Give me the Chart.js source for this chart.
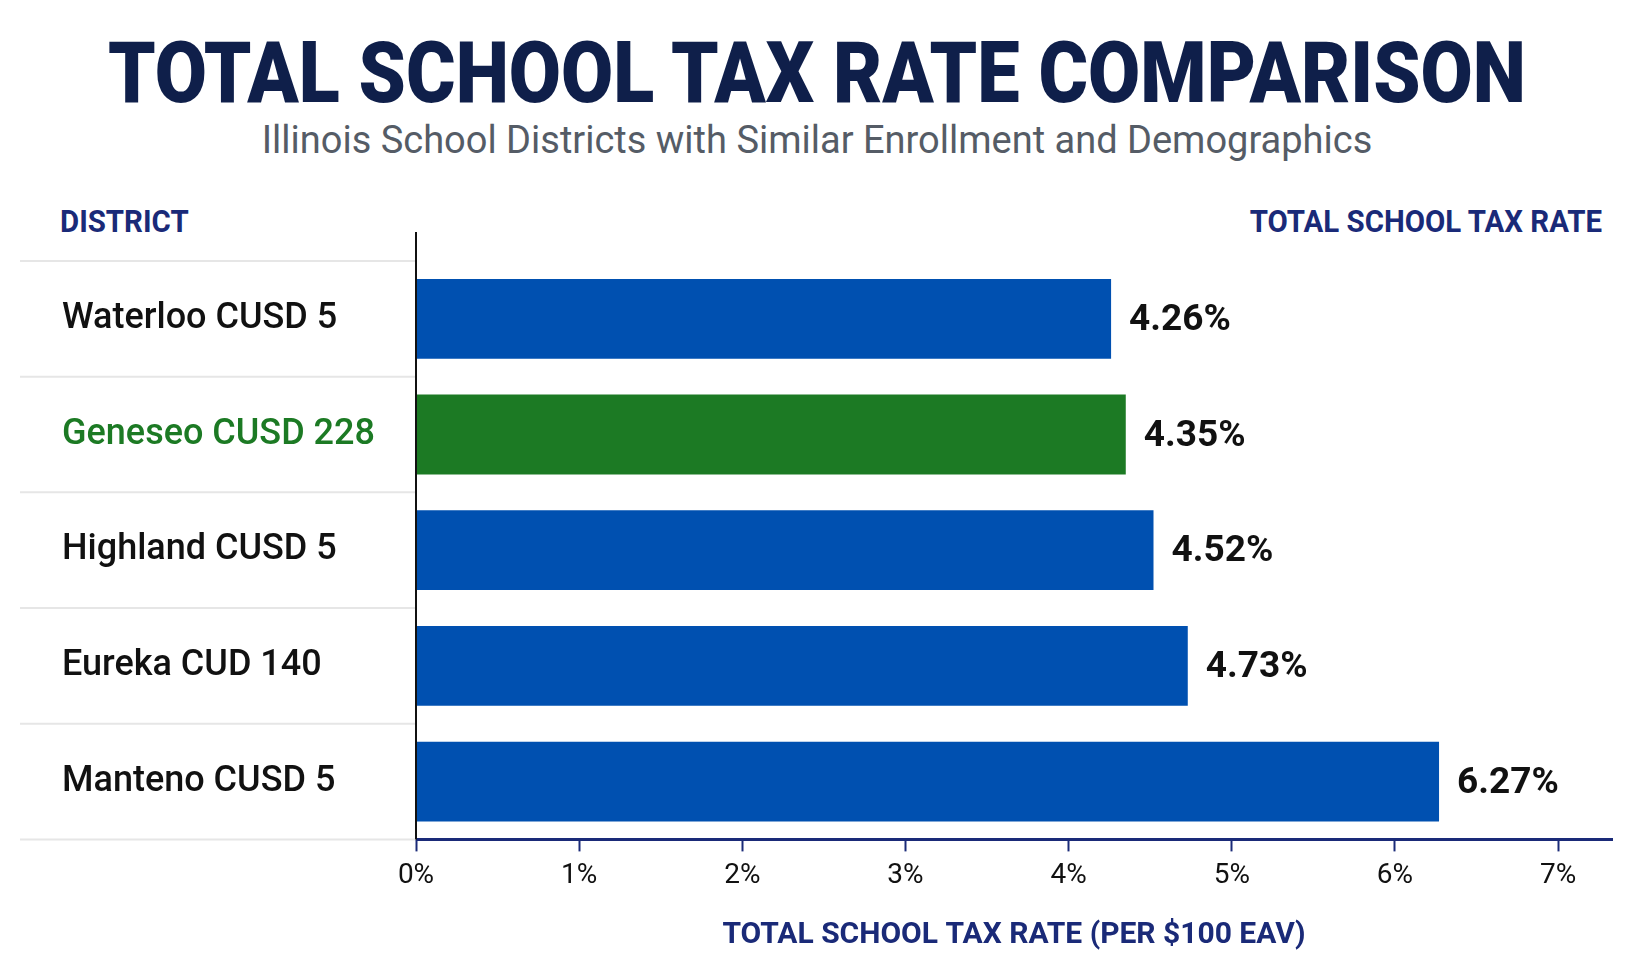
<!DOCTYPE html>
<html><head><meta charset="utf-8">
<script src="https://cdn.jsdelivr.net/npm/chart.js@4"></script>
<style>
body{margin:0;background:#fff;width:1634px;height:963px;overflow:hidden;position:relative;font-family:Roboto,sans-serif}
#title{position:absolute;top:22px;width:100%;text-align:center;font-size:86px;font-weight:900;color:#0f1f4a;white-space:nowrap;transform:scaleX(0.88)}
#sub{position:absolute;top:118px;width:100%;text-align:center;font-size:38px;color:#555c66}
.hd{position:absolute;top:202px;font-size:32px;font-weight:bold;color:#1a2a78;transform:scaleX(0.92)}
canvas{position:absolute;left:0;top:0}
</style></head><body>
<div id="title">TOTAL SCHOOL TAX RATE COMPARISON</div>
<div id="sub">Illinois School Districts with Similar Enrollment and Demographics</div>
<div class="hd" style="left:60px;transform-origin:left">DISTRICT</div>
<div class="hd" style="right:32px;transform-origin:right">TOTAL SCHOOL TAX RATE</div>
<canvas id="c" width="1634" height="963"></canvas>
<script>
const districts = ["Waterloo CUSD 5", "Geneseo CUSD 228", "Highland CUSD 5", "Eureka CUD 140", "Manteno CUSD 5"];
const rates = [4.26, 4.35, 4.52, 4.73, 6.27];
const barColors = ["#0050b0", "#1c7a24", "#0050b0", "#0050b0", "#0050b0"];
const labelColors = ["#111", "#1c7a24", "#111", "#111", "#111"];
const xTicks = [0, 1, 2, 3, 4, 5, 6, 7];

const extras = {
  id: "extras",
  afterDraw(chart) {
    const ctx = chart.ctx, a = chart.chartArea;
    ctx.save();
    ctx.strokeStyle = "#e6e6e6"; ctx.lineWidth = 2;
    const step = (a.bottom - a.top) / districts.length;
    for (let i = 0; i <= districts.length; i++) {
      const yy = a.top + i * step;
      ctx.beginPath(); ctx.moveTo(20, yy); ctx.lineTo(a.left, yy); ctx.stroke();
    }
    ctx.strokeStyle = "#111"; ctx.lineWidth = 2;
    ctx.beginPath(); ctx.moveTo(a.left, 232); ctx.lineTo(a.left, a.bottom); ctx.stroke();
    ctx.font = "bold 37px Roboto, sans-serif";
    ctx.fillStyle = "#111"; ctx.textBaseline = "middle";
    chart.getDatasetMeta(0).data.forEach((bar, i) => {
      ctx.fillText(rates[i].toFixed(2) + "%", bar.x + 18, bar.y + 2);
    });
    ctx.restore();
  }
};

new Chart(document.getElementById("c"), {
  type: "bar",
  data: {
    labels: districts,
    datasets: [{ data: rates, backgroundColor: barColors, barPercentage: 0.69, categoryPercentage: 1 }]
  },
  options: {
    indexAxis: "y",
    responsive: false,
    animation: false,
    layout: { padding: { left: 62, right: 22, top: 261, bottom: 6 } },
    plugins: { legend: { display: false }, tooltip: { enabled: false } },
    scales: {
      x: {
        min: 0, max: 7.33,
        afterBuildTicks: s => { s.ticks = xTicks.map(v => ({ value: v })); },
        ticks: { callback: v => v + "%", color: "#111", padding: 8,
          font: { size: 28, family: "Roboto, sans-serif" } },
        grid: { display: true, drawOnChartArea: false, drawTicks: true, tickLength: 12, tickColor: "#1a2a78", tickWidth: 2 },
        border: { color: "#1a2a78", width: 3 },
        title: { display: true, text: "TOTAL SCHOOL TAX RATE (PER $100 EAV)", color: "#1a2a78", padding: { top: 16 },
          font: { size: 30, weight: "bold", family: "Roboto, sans-serif" } }
      },
      y: {
        afterFit: s => { s.width = 354; },
        ticks: { crossAlign: "far", color: labelColors, padding: 0,
          font: { size: 36, family: "Roboto, sans-serif", weight: 500 } },
        grid: { display: false },
        border: { display: false }
      }
    }
  },
  plugins: [extras]
});
</script>
</body></html>
